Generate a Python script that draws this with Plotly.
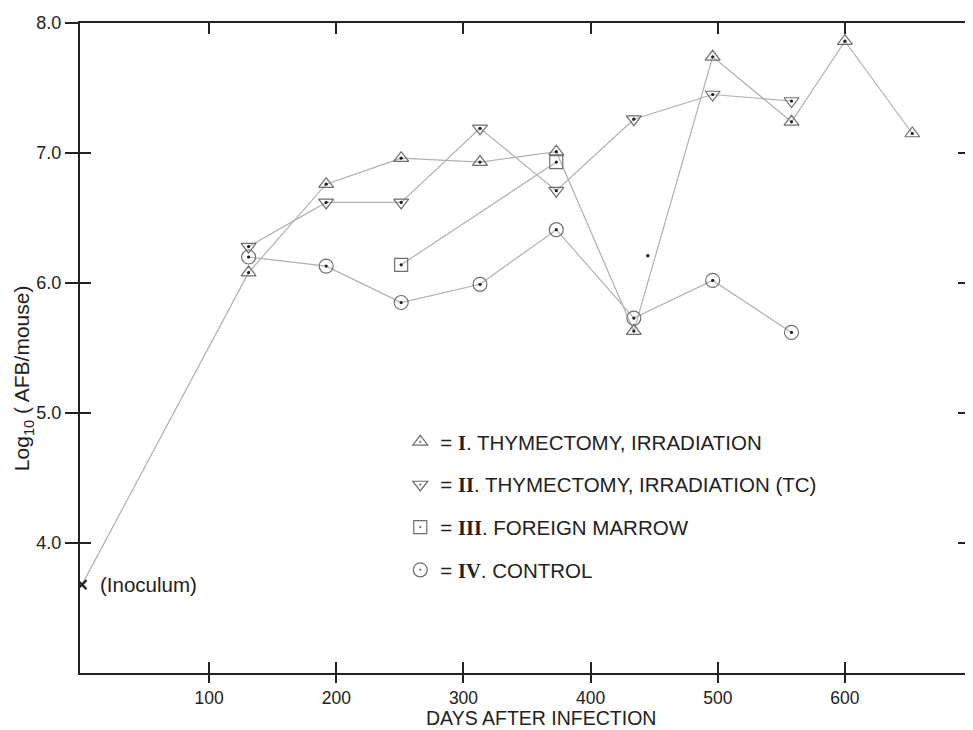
import plotly.graph_objects as go

# ---- data ----
days_I = [131, 192, 251, 313, 373, 434, 496, 558, 600, 653]
log_I = [6.08, 6.76, 6.96, 6.93, 7.01, 5.63, 7.74, 7.24, 7.86, 7.15]

days_II = [131, 192, 251, 313, 373, 434, 496, 558]
log_II = [6.28, 6.62, 6.62, 7.19, 6.71, 7.26, 7.45, 7.40]

days_III = [251, 373]
log_III = [6.14, 6.93]

days_IV = [131, 192, 251, 313, 373, 434, 496, 558]
log_IV = [6.20, 6.13, 5.85, 5.99, 6.41, 5.73, 6.02, 5.62]

inoc_day = [0]
inoc_log = [3.68]

stray_day = [445]
stray_log = [6.21]

x_ticks = [100, 200, 300, 400, 500, 600]
y_ticks = [4.0, 5.0, 6.0, 7.0, 8.0]
y_ticklabels = ["4.0", "5.0", "6.0", "7.0", "8.0"]

SERIF = "font-family:'Liberation Serif';font-weight:bold"
names = [
    f"= <span style=\"{SERIF}\">I</span>. THYMECTOMY, IRRADIATION",
    f"= <span style=\"{SERIF}\">II</span>. THYMECTOMY, IRRADIATION (TC)",
    f"= <span style=\"{SERIF}\">III</span>. FOREIGN MARROW",
    f"= <span style=\"{SERIF}\">IV</span>. CONTROL",
]
series = [
    (days_I, log_I, "triangle-up-open-dot", 13),
    (days_II, log_II, "triangle-down-open-dot", 13),
    (days_III, log_III, "square-open-dot", 13),
    (days_IV, log_IV, "circle-open-dot", 14),
]

LINE = "#b0b0b0"
MARK = "#6e6e6e"
INK = "#222222"
FONT = "Liberation Sans"

# page offset of the figure (browser default body margin)
OFF = 8
W, H = 973 - OFF, 730 - OFF
L, R, T, B = 80 - OFF, 973 - 971, 23 - OFF, 730 - 673
PW, PH = W - L - R, H - T - B


def px_x(p):  # page pixel -> paper x
    return (p - OFF - L) / PW


def px_y(p):  # page pixel -> paper y
    return 1 - (p - OFF - T) / PH


fig = go.Figure()

# inoculum connection to first point of group I
fig.add_trace(go.Scatter(
    x=inoc_day + days_I[:1], y=inoc_log + log_I[:1], mode="lines",
    line=dict(color=LINE, width=1.2), showlegend=False, hoverinfo="skip"))

for i, (dx, dy, sym, sz) in enumerate(series):
    fig.add_trace(go.Scatter(
        x=dx, y=dy, mode="lines", line=dict(color=LINE, width=1.2),
        showlegend=False, hoverinfo="skip"))
for i, (dx, dy, sym, sz) in enumerate(series):
    fig.add_trace(go.Scatter(
        x=dx, y=dy, mode="markers", name=names[i], legendgroup=f"g{i}",
        marker=dict(symbol=sym, size=sz, color=MARK, line=dict(color=MARK, width=1.2)),
        showlegend=True))
    fig.add_trace(go.Scatter(
        x=dx, y=dy, mode="markers", marker=dict(symbol="circle", size=3.2, color=INK),
        showlegend=False, hoverinfo="skip"))

# inoculum marker
fig.add_trace(go.Scatter(
    x=inoc_day, y=inoc_log, mode="markers",
    marker=dict(symbol="x-thin", size=9, line=dict(color=INK, width=2.2)),
    showlegend=False))
# stray dot
fig.add_trace(go.Scatter(
    x=stray_day, y=stray_log, mode="markers",
    marker=dict(symbol="circle", size=3.5, color=INK), showlegend=False))

# helper trace for overlay tick axes
fig.add_trace(go.Scatter(
    x=inoc_day, y=inoc_log, xaxis="x2", yaxis="y2", mode="markers",
    marker=dict(opacity=0), showlegend=False, hoverinfo="skip"))

XR = [-1.6, 697.6]
YR = [3.0, 8.0]

fig.update_layout(
    width=W, height=H,
    margin=dict(l=L, r=R, t=T, b=B),
    paper_bgcolor="white", plot_bgcolor="white",
    font=dict(family=FONT, color=INK),
    xaxis=dict(range=XR, tickvals=x_ticks, ticks="outside", ticklen=8, tickwidth=2,
               tickcolor=INK, showline=True, linecolor=INK, linewidth=2,
               showgrid=False, zeroline=False,
               tickfont=dict(family=FONT, size=17.5, color=INK)),
    yaxis=dict(range=YR, tickvals=y_ticks, ticktext=y_ticklabels, ticks="outside",
               ticklen=13, tickwidth=2, tickcolor=INK, showline=True, linecolor=INK,
               linewidth=2, showgrid=False, zeroline=False,
               tickfont=dict(family=FONT, size=18, color=INK)),
    xaxis2=dict(range=XR, overlaying="x", anchor="y2", tickvals=x_ticks, ticks="inside",
                ticklen=11, tickwidth=2, tickcolor=INK, showline=True, linecolor=INK,
                linewidth=2, mirror="ticks", showticklabels=False, showgrid=False,
                zeroline=False),
    yaxis2=dict(range=YR, overlaying="y", anchor="x2", tickvals=y_ticks, ticks="inside",
                ticklen=11, tickwidth=2, tickcolor=INK, showline=True, linecolor=INK,
                linewidth=2, mirror="ticks", showticklabels=False, showgrid=False,
                zeroline=False),
    legend=dict(x=px_x(401), y=px_y(422), xanchor="left", yanchor="top",
                bgcolor="rgba(0,0,0,0)", font=dict(family=FONT, size=20.5, color=INK),
                traceorder="grouped", tracegroupgap=13, itemsizing="trace"),
    showlegend=True,
)

fig.add_annotation(text="(Inoculum)", x=0, y=inoc_log[0], xref="x", yref="y",
                   xanchor="left", xshift=16, showarrow=False,
                   font=dict(family=FONT, size=20.5, color=INK))
fig.add_annotation(text="DAYS AFTER INFECTION", x=px_x(542), y=px_y(730),
                   xref="paper", yref="paper", xanchor="center", yanchor="bottom",
                   borderpad=0, showarrow=False, font=dict(family=FONT, size=19.5, color=INK))
fig.add_annotation(text="Log<sub>10</sub> ( AFB/mouse)", x=px_x(23),
                   y=px_y(378), xref="paper", yref="paper",
                   xanchor="center", yanchor="middle", textangle=-90, showarrow=False,
                   font=dict(family=FONT, size=21, color=INK))

fig.write_html("out.html")
